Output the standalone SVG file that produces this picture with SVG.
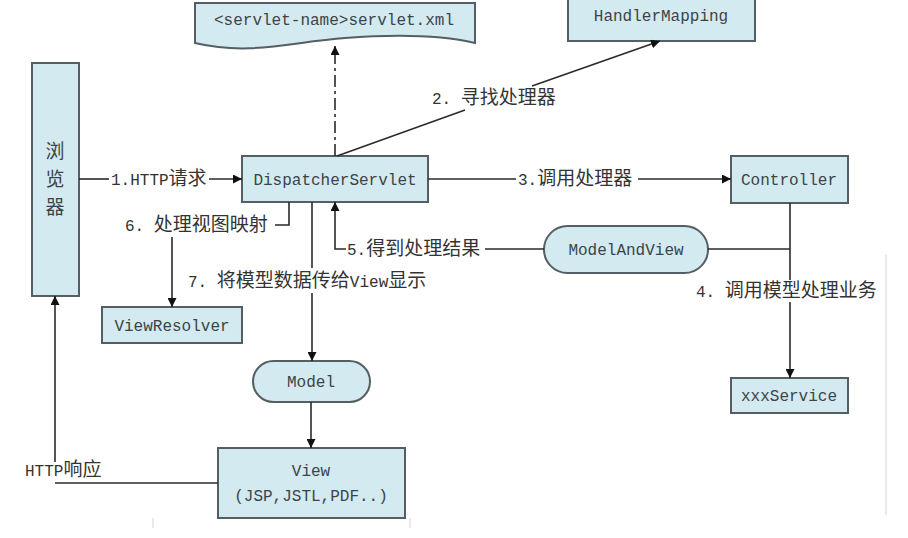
<svg xmlns="http://www.w3.org/2000/svg" width="908" height="538" viewBox="0 0 908 538">
<style>
.n{fill:#d3eaf0;stroke:#555f63;stroke-width:2}
.t{font-family:"Liberation Mono","Noto Sans CJK SC",monospace;font-size:16px;fill:#3c4448}
.c{font-family:"Noto Sans CJK SC",sans-serif;font-size:19px}
.l{font-family:"Liberation Mono","Noto Sans CJK SC",monospace;font-size:16px;fill:#333}
.e{fill:none;stroke:#2a2a2a;stroke-width:1.6}
</style>
<defs>
<marker id="a" viewBox="0 0 10 10" refX="10" refY="5" markerWidth="9" markerHeight="9" markerUnits="userSpaceOnUse" orient="auto">
<path d="M0,0 L10,5 L0,10 Z" fill="#111"/>
</marker>
</defs>
<rect width="908" height="538" fill="#fff"/>
<g id="browser"><rect class="n" x="32" y="63" width="47" height="233"/>
<text class="c" x="55" y="158" text-anchor="middle" fill="#3c4448" font-size="22">浏</text>
<text class="c" x="55" y="186" text-anchor="middle" fill="#3c4448" font-size="22">览</text>
<text class="c" x="55" y="214" text-anchor="middle" fill="#3c4448" font-size="22">器</text></g>
<g id="servletxml"><path class="n" d="M195,3 H475 V43 C445,36 400,34 345,38 C290,42 250,56 195,43 Z"/>
<text class="t" x="334" y="25" text-anchor="middle">&lt;servlet-name&gt;servlet.xml</text></g>
<g id="handlermapping"><rect class="n" x="568" y="-3" width="187" height="44"/>
<text class="t" x="661" y="21" text-anchor="middle">HandlerMapping</text></g>
<g id="dispatcher"><rect class="n" x="242" y="156" width="186" height="46"/>
<text class="t" x="335" y="185" text-anchor="middle">DispatcherServlet</text></g>
<g id="controller"><rect class="n" x="731" y="156" width="117" height="47"/>
<text class="t" x="789" y="185" text-anchor="middle">Controller</text></g>
<g id="modelandview"><rect class="n" x="544" y="226" width="164" height="47" rx="23.5"/>
<text class="t" x="626" y="255" text-anchor="middle">ModelAndView</text></g>
<g id="xxxservice"><rect class="n" x="731" y="378" width="117" height="35"/>
<text class="t" x="789" y="401" text-anchor="middle">xxxService</text></g>
<g id="viewresolver"><rect class="n" x="102" y="307" width="140" height="36"/>
<text class="t" x="172" y="331" text-anchor="middle">ViewResolver</text></g>
<g id="model"><rect class="n" x="253" y="361" width="117" height="41" rx="20.5"/>
<text class="t" x="311" y="387" text-anchor="middle">Model</text></g>
<g id="view"><rect class="n" x="218" y="448" width="187" height="70"/>
<text class="t" x="311" y="476" text-anchor="middle">View</text>
<text class="t" x="311" y="501" text-anchor="middle">(JSP,JSTL,PDF..)</text></g>
<g id="connectors">
<line class="e" x1="79" y1="179" x2="109" y2="179"/>
<line class="e" x1="209" y1="179" x2="242" y2="179" marker-end="url(#a)"/>
<text class="l" x="111" y="185">1.HTTP<tspan class="c">请求</tspan></text>
<line class="e" x1="335" y1="156" x2="335" y2="46" stroke-dasharray="12,4,3,4" marker-end="url(#a)"/>
<line class="e" x1="337" y1="156" x2="465" y2="110"/>
<line class="e" x1="532" y1="86" x2="660" y2="41" marker-end="url(#a)"/>
<text class="l" x="432" y="104">2. <tspan class="c">寻找处理器</tspan></text>
<line class="e" x1="428" y1="179" x2="516" y2="179"/>
<line class="e" x1="638" y1="179" x2="731" y2="179" marker-end="url(#a)"/>
<text class="l" x="518" y="185">3.<tspan class="c">调用处理器</tspan></text>
<line class="e" x1="790" y1="203" x2="790" y2="280"/>
<line class="e" x1="790" y1="302" x2="790" y2="378" marker-end="url(#a)"/>
<text class="l" x="696" y="297">4. <tspan class="c">调用模型处理业务</tspan></text>
<line class="e" x1="708" y1="249" x2="790" y2="249"/>
<line class="e" x1="485" y1="249" x2="544" y2="249"/>
<path class="e" d="M346,249 H335 V202" marker-end="url(#a)"/>
<text class="l" x="347" y="255">5.<tspan class="c">得到处理结果</tspan></text>
<path class="e" d="M289,202 V225 H275"/>
<text class="l" x="125" y="231">6. <tspan class="c">处理视图映射</tspan></text>
<line class="e" x1="172" y1="237" x2="172" y2="307" marker-end="url(#a)"/>
<line class="e" x1="312" y1="202" x2="312" y2="268"/>
<line class="e" x1="312" y1="293" x2="312" y2="361" marker-end="url(#a)"/>
<text class="l" x="188" y="287">7. <tspan class="c">将模型数据传给</tspan>View<tspan class="c">显示</tspan></text>
<line class="e" x1="311" y1="402" x2="311" y2="448" marker-end="url(#a)"/>
<path class="e" d="M218,483 H55"/>
<line class="e" x1="55" y1="462" x2="55" y2="296" marker-end="url(#a)"/>
<text class="l" x="25" y="476">HTTP<tspan class="c">响应</tspan></text>
</g>
<g id="edge-marks" stroke="#e2e2e2" stroke-width="1.5">
<line x1="886" y1="255" x2="886" y2="515"/>
<line x1="153" y1="518" x2="153" y2="528"/>
<line x1="410" y1="518" x2="410" y2="528"/>
</g>
</svg>
